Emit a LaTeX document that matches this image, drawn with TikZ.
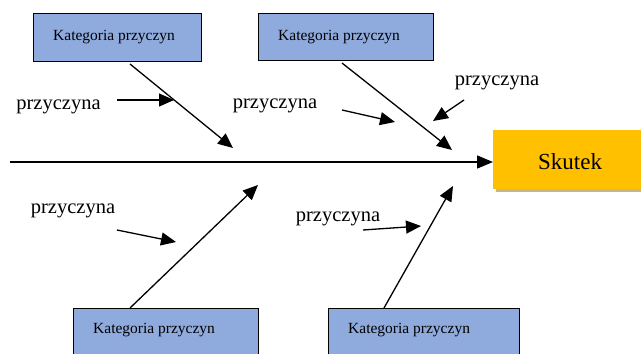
\documentclass[tikz,border=0pt]{standalone}
\usepackage{fontspec}
\setmainfont{Liberation Serif}
\usetikzlibrary{arrows.meta}
\definecolor{catblue}{HTML}{8FAADC}
\definecolor{effectorange}{HTML}{FFC000}
\definecolor{shadowtan}{HTML}{C6B68C}
\tikzset{
  catbox/.style={draw=black, line width=1.4pt, fill=catblue, inner sep=0pt},
  cattext/.style={font=\fontsize{15.5}{18}\selectfont, inner sep=0pt, anchor=west},
  causetext/.style={font=\fontsize{20.5}{24}\selectfont, inner sep=0pt},
  arr/.style={line width=1.3pt, -{Triangle[length=15pt,width=13pt]}},
  mainarr/.style={line width=1.5pt, -{Triangle[length=16pt,width=13pt]}}
}
\begin{document}
\begin{tikzpicture}[x=1pt,y=-1pt]
\useasboundingbox (0,0) rectangle (641,354);
\clip (0,0) rectangle (641,354);
% top category boxes
\node[catbox, minimum width=168pt, minimum height=48pt, anchor=north west] (tl) at (33,13) {};
\node[cattext] (tlt) at (53,37) {Kategoria przyczyn};
\node[catbox, minimum width=175pt, minimum height=47pt, anchor=north west] (tr) at (258,13) {};
\node[cattext] (trt) at (278,37) {Kategoria przyczyn};
% bottom category boxes
\node[catbox, minimum width=185pt, minimum height=70pt, anchor=north west] (bl) at (73,308) {};
\node[cattext] (blt) at (93,330) {Kategoria przyczyn};
\node[catbox, minimum width=191pt, minimum height=70pt, anchor=north west] (br) at (328,308) {};
\node[cattext] (brt) at (348,330) {Kategoria przyczyn};
% effect box
\node[fill=shadowtan, minimum width=160pt, minimum height=59pt, inner sep=0pt, anchor=north west] (sksh) at (496,133) {};
\node[fill=effectorange, minimum width=160pt, minimum height=59pt, inner sep=0pt, anchor=north west] (sk) at (493,130) {};
\node[font=\fontsize{23}{27}\selectfont, inner sep=0pt, anchor=west] (skt) at (538,162) {Skutek};
% spine
\coordinate (spinestart) at (10,162);
\draw[mainarr] (spinestart) -- (sk.west |- spinestart);
% cause labels
\node[causetext] (c1) at (58.5,107) {przyczyna};
\node[causetext] (c2) at (275,106) {przyczyna};
\node[causetext] (c3) at (497,83) {przyczyna};
\node[causetext] (c4) at (73,211) {przyczyna};
\node[causetext] (c5) at (338,219) {przyczyna};
% bone coordinates
\coordinate (d1s) at (130,64);  \coordinate (d1e) at (233,148);
\coordinate (d2s) at (342,63);  \coordinate (d2e) at (452,150);
\coordinate (d3s) at (130,308); \coordinate (d3e) at (258,185);
\coordinate (d4s) at (384,308); \coordinate (d4e) at (453,186);
\draw[arr] (d1s) -- (d1e);
\draw[arr] (d2s) -- (d2e);
\draw[arr] (d3s) -- (d3e);
\draw[arr] (d4s) -- (d4e);
% small cause arrows
\coordinate (a1s) at (117,100); \coordinate (a1e) at (174,100);
\coordinate (a2s) at (342,110); \coordinate (a2e) at (395,122);
\coordinate (a3s) at (464,100); \coordinate (a3e) at (433,121);
\coordinate (a4s) at (117,230); \coordinate (a4e) at (176,242);
\coordinate (a5s) at (363,230); \coordinate (a5e) at (421,226);
\draw[arr] (a1s) -- (a1e);
\draw[arr] (a2s) -- (a2e);
\draw[arr] (a3s) -- (a3e);
\draw[arr] (a4s) -- (a4e);
\draw[arr] (a5s) -- (a5e);
\end{tikzpicture}
\end{document}
